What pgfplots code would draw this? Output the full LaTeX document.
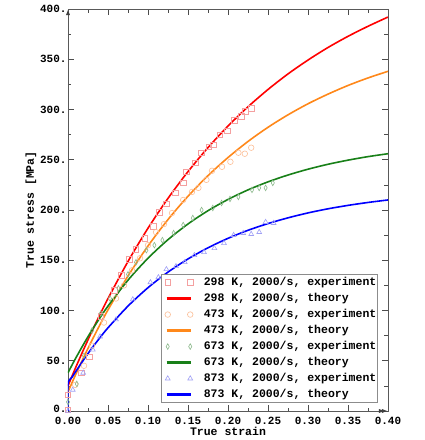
\documentclass[border=0pt]{standalone}
\usepackage{fontspec}
\setmonofont{Liberation Mono}
\usepackage{pgfplots}
\pgfplotsset{compat=1.18}

\definecolor{thR}{RGB}{255,0,0}
\definecolor{thO}{RGB}{255,136,26}
\definecolor{thG}{RGB}{24,128,24}
\definecolor{thB}{RGB}{0,0,255}
\definecolor{exR}{RGB}{244,160,160}
\definecolor{exO}{RGB}{252,190,150}
\definecolor{exG}{RGB}{140,185,140}
\definecolor{exB}{RGB}{160,160,245}
\newcommand\tf{\ttfamily\bfseries}

\pgfplotsset{
  expt/.style={only marks, mark size=2.8pt, mark options={line width=0.6pt},
    legend image code/.code={\path (-5pt,0pt) (31pt,0pt);
      \draw[##1, only marks] plot coordinates {(1pt,0pt) (23.5pt,0pt)};}},
  theo/.style={line width=1.6pt, no marks, smooth,
    legend image code/.code={\path (-5pt,0pt) (31pt,0pt);
      \draw[##1, line width=2.6pt] (0pt,0pt) -- (24.5pt,0pt);}},
}

\begin{document}
\begin{tikzpicture}
\path (-68pt,-29pt) rectangle (356pt,411pt);
\begin{axis}[
  name=ax,
  at={(0,0)}, anchor=south west,
  width=320pt, height=402pt, scale only axis,
  xmin=0, xmax=0.4, ymin=0, ymax=400,
  xtick={0,0.05,0.1,0.15,0.2,0.25,0.3,0.35,0.4},
  xticklabels={0.00,0.05,0.10,0.15,0.20,0.25,0.30,0.35,0.40},
  ytick={0,50,100,150,200,250,300,350,400},
  yticklabels={{},50.,100.,150.,200.,250.,300.,350.,400.},
  extra y ticks={0}, extra y tick labels={0.},
  extra y tick style={yticklabel style={yshift=2.5pt}},
  minor x tick num=1, minor y tick num=1,
  tick align=inside, major tick length=6pt, minor tick length=3.5pt,
  tick style={black!70, line width=0.6pt},
  axis line style={black!65, line width=0.8pt},
  ticklabel style={font=\fontsize{11}{13}\tf, inner sep=0.5pt},
  yticklabel style={xshift=-0.8pt},
  xticklabel style={yshift=-5.4pt},
  xlabel={True strain}, ylabel={True stress [MPa]},
  label style={font=\fontsize{11.5}{13}\tf},
  xlabel style={at={(axis description cs:0.5,0)}, anchor=center, yshift=-20.5pt},
  ylabel style={at={(axis description cs:0,0.5)}, anchor=center, yshift=37pt},
  legend style={at={(0.969,0.02)}, anchor=south east, draw=black!45,
    line width=0.8pt, fill=white, inner xsep=0pt, inner ysep=0pt,
    column sep=4pt, font=\fontsize{11.5}{13}\tf,
    nodes={inner xsep=1.3pt, inner ysep=2pt, text height=9pt, text depth=3pt},
    cells={anchor=west}},
]
% 298 K
\addplot[expt, exR, mark=square] coordinates {
  (0,1)(0,16)(0.017,38)(0.027,54)(0.041,94)(0.058,120)(0.067,135)(0.077,151)
  (0.085,161)(0.096,172)(0.107,184)(0.114,198)(0.123,206)(0.134,217)(0.144,227)
  (0.148,238)(0.159,247)(0.167,257)(0.176,263)(0.182,265)(0.19,275)(0.199,279)
  (0.208,289)(0.217,293)(0.222,298)(0.229,301)
};
\addlegendentry{298 K, 2000/s, experiment}
\addplot[theo, thR] coordinates {
  (0,25)(0.005,34.6)(0.01,44.0)(0.02,62.1)(0.03,79.4)(0.04,96.1)(0.05,111.9)
  (0.075,148.8)(0.1,181.9)(0.125,211.6)(0.15,238.2)(0.175,262.1)(0.2,283.5)
  (0.225,302.7)(0.25,319.9)(0.275,335.4)(0.3,349.2)(0.325,361.7)(0.35,372.8)
  (0.375,382.8)(0.4,392)
};
\addlegendentry{298 K, 2000/s, theory}
% 473 K
\addplot[expt, exO, mark=o] coordinates {
  (0.009,26)(0.02,45)(0.03,65)(0.045,88)(0.06,112)(0.07,125)(0.08,140)(0.09,152)
  (0.1,165)(0.11,178)(0.12,186)(0.13,197)(0.144,210)(0.155,218)(0.163,222)
  (0.173,230)(0.18,239)(0.1925,243)(0.203,248)(0.213,257)(0.221,256)(0.229,262)
};
\addlegendentry{473 K, 2000/s, experiment}
\addplot[theo, thO] coordinates {
  (0,19)(0.005,28.1)(0.01,37.0)(0.02,54.1)(0.03,70.4)(0.04,85.9)(0.05,100.6)
  (0.075,134.4)(0.1,164.2)(0.125,190.5)(0.15,213.7)(0.175,234.2)(0.2,252.2)
  (0.225,268.2)(0.25,282.3)(0.275,294.7)(0.3,305.7)(0.325,315.3)(0.35,323.9)
  (0.375,331.4)(0.4,338)
};
\addlegendentry{473 K, 2000/s, theory}
% 673 K
\addplot[expt, exG, mark=diamond, mark options={xscale=0.75, line width=0.6pt}] coordinates {
  (0,9)(0.011,27)(0.02,55)(0.03,80)(0.041,97)(0.0525,112)(0.063,122)(0.075,136)
  (0.085,148)(0.098,160)(0.108,165)(0.118,170)(0.132,177)(0.144,185)(0.156,192)
  (0.167,200)(0.181,202)(0.192,207)(0.2025,211)(0.213,213)(0.23,220)(0.239,222)
  (0.247,222)(0.256,227)
};
\addlegendentry{673 K, 2000/s, experiment}
\addplot[theo, thG] coordinates {
  (0,38)(0.005,45.7)(0.01,53.1)(0.02,67.2)(0.03,80.5)(0.04,92.8)(0.05,104.4)
  (0.075,130.2)(0.1,152.0)(0.125,170.5)(0.15,186.1)(0.175,199.3)(0.2,210.5)
  (0.225,220.0)(0.25,228.0)(0.275,234.8)(0.3,240.6)(0.325,245.5)(0.35,249.6)
  (0.375,253.1)(0.4,256.0)
};
\addlegendentry{673 K, 2000/s, theory}
% 873 K
\addplot[expt, exB, mark=triangle] coordinates {
  (0,0)(0.006,21)(0.019,38)(0.031,61)(0.04,74)(0.06,91)(0.081,111)(0.103,128)
  (0.113,133)(0.123,141)(0.135,144)(0.146,148)(0.158,155)(0.17,158)(0.183,162)
  (0.195,167)(0.207,175)(0.219,177)(0.229,176)(0.239,178)(0.247,188)(0.257,187)
};
\addlegendentry{873 K, 2000/s, experiment}
\addplot[theo, thB] coordinates {
  (0,0)(0,27)(0.005,33.5)(0.01,39.7)(0.02,51.5)(0.03,62.7)(0.04,73.0)(0.05,82.8)
  (0.075,104.4)(0.1,122.7)(0.125,138.2)(0.15,151.3)(0.175,162.4)(0.2,171.8)
  (0.225,179.8)(0.25,186.5)(0.275,192.2)(0.3,197.1)(0.325,201.2)(0.35,204.6)
  (0.375,207.5)(0.4,210.0)
};
\addlegendentry{873 K, 2000/s, theory}
\end{axis}
\fill[black!75] ([yshift=-1pt]ax.north west) -- ++(-2pt,-5pt) -- ++(4pt,0pt) -- cycle;
\fill[black!75] ([xshift=-1pt]ax.south east) -- ++(-5pt,2pt) -- ++(0pt,-4pt) -- cycle;
\fill[black!75] ([xshift=-4pt]ax.south east) -- ++(-5pt,2pt) -- ++(0pt,-4pt) -- cycle;
\end{tikzpicture}
\end{document}
